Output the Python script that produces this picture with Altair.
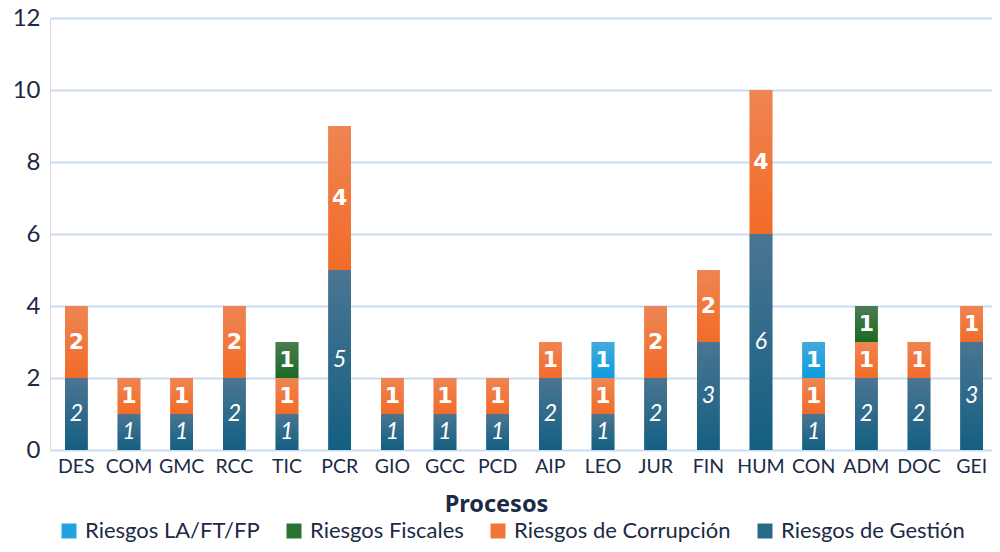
import altair as alt
import pandas as pd

procesos = ["DES", "COM", "GMC", "RCC", "TIC", "PCR", "GIO", "GCC", "PCD",
            "AIP", "LEO", "JUR", "FIN", "HUM", "CON", "ADM", "DOC", "GEI"]
gestion = [2, 1, 1, 2, 1, 5, 1, 1, 1, 2, 1, 2, 3, 6, 1, 2, 2, 3]
corrupcion = [2, 1, 1, 2, 1, 4, 1, 1, 1, 1, 1, 2, 2, 4, 1, 1, 1, 1]
fiscales = [0, 0, 0, 0, 1, 0, 0, 0, 0, 0, 0, 0, 0, 0, 0, 1, 0, 0]
laftfp = [0, 0, 0, 0, 0, 0, 0, 0, 0, 0, 1, 0, 0, 0, 1, 0, 0, 0]

series_stack = ["Riesgos de Gestión", "Riesgos de Corrupción", "Riesgos Fiscales", "Riesgos LA/FT/FP"]
series_values = [gestion, corrupcion, fiscales, laftfp]
# gradient colours (top, bottom) per series
series_top = ["#4b7592", "#ee8553", "#4b7c50", "#45a9dd"]
series_bottom = ["#135f82", "#f26b28", "#196a23", "#0a9de0"]
legend_order = ["Riesgos LA/FT/FP", "Riesgos Fiscales", "Riesgos de Corrupción", "Riesgos de Gestión"]
legend_colors = ["#22a3df", "#2a7232", "#f0763a", "#2a6987"]

rows = []
for i, p in enumerate(procesos):
    base_v = 0
    for s, vals in zip(series_stack, series_values):
        v = vals[i]
        if v > 0:
            rows.append({"proceso": p, "serie": s, "valor": v,
                         "y0": base_v, "y1": base_v + v, "mid": base_v + v / 2,
                         "gestion": s == "Riesgos de Gestión"})
            base_v += v
df = pd.DataFrame(rows)

TXT = "#1b2a45"

x_scale = alt.Scale(paddingInner=0.57, paddingOuter=0.285, range=[0, 948])
x_enc = alt.X("proceso:N", sort=procesos, scale=x_scale,
              axis=alt.Axis(title="Procesos", labelAngle=0, domain=False, ticks=False,
                            grid=False, labelFont="Lato", labelFontSize=19.5,
                            labelColor=TXT, labelPadding=7,
                            titleFont="Noto Sans", titleFontSize=23.5, titleFontWeight="bold",
                            titleColor=TXT, titleX=446, titleY=54,
                            titleBaseline="middle", titleAlign="center"))
y_scale = alt.Scale(domain=[0, 12], nice=False)
y_enc = alt.Y("y0:Q", scale=y_scale,
              axis=alt.Axis(title=None, values=[0, 2, 4, 6, 8, 10, 12], domain=False,
                            ticks=False, gridColor="#c9dbf1", gridWidth=2,
                            labelFont="Lato", labelFontSize=24, labelColor=TXT,
                            labelPadding=10))

base = alt.Chart(df)

bars = base.mark_bar().encode(
    x=x_enc,
    y=y_enc,
    y2="y1:Q",
    color=alt.Color("serie:N",
                    scale=alt.Scale(domain=legend_order, range=legend_colors),
                    legend=alt.Legend(title=None, orient="none", legendX=8, legendY=502,
                                      direction="horizontal", symbolType="square",
                                      symbolSize=225, symbolStrokeWidth=0,
                                      labelFont="Lato", labelFontSize=22,
                                      labelColor=TXT, columnPadding=23,
                                      labelOffset=5, labelLimit=400)),
)

layers = [bars]
for s, top, bot in zip(series_stack, series_top, series_bottom):
    grad = alt.LinearGradient(
        gradient="linear",
        stops=[alt.GradientStop(offset=0, color=top),
               alt.GradientStop(offset=1, color=bot)],
        x1=0, x2=0, y1=0, y2=1,
    )
    layers.append(
        base.transform_filter(alt.datum.serie == s).mark_bar(color=grad).encode(
            x=alt.X("proceso:N", sort=procesos),
            y=alt.Y("y0:Q", scale=y_scale),
            y2="y1:Q",
        )
    )

labels_g = base.transform_filter("datum.gestion").mark_text(
    font="Lato", fontSize=23, fontStyle="italic", color="white", baseline="middle"
).encode(x=alt.X("proceso:N", sort=procesos), y=alt.Y("mid:Q", scale=y_scale), text="valor:Q")

labels_o = base.transform_filter("!datum.gestion").mark_text(
    font="DejaVu Sans", fontSize=22, fontWeight="bold", color="white", baseline="middle"
).encode(x=alt.X("proceso:N", sort=procesos), y=alt.Y("mid:Q", scale=y_scale), text="valor:Q")

layers += [labels_g, labels_o]

chart = alt.layer(*layers).properties(
    width=942, height=432,
    autosize=alt.AutoSizeParams(type="none"),
    padding={"left": 42, "top": 10, "right": 0, "bottom": 94},
).configure_view(stroke=None).configure(background="white")

chart.save("out.html", embed_options={"renderer": "svg", "actions": False})
